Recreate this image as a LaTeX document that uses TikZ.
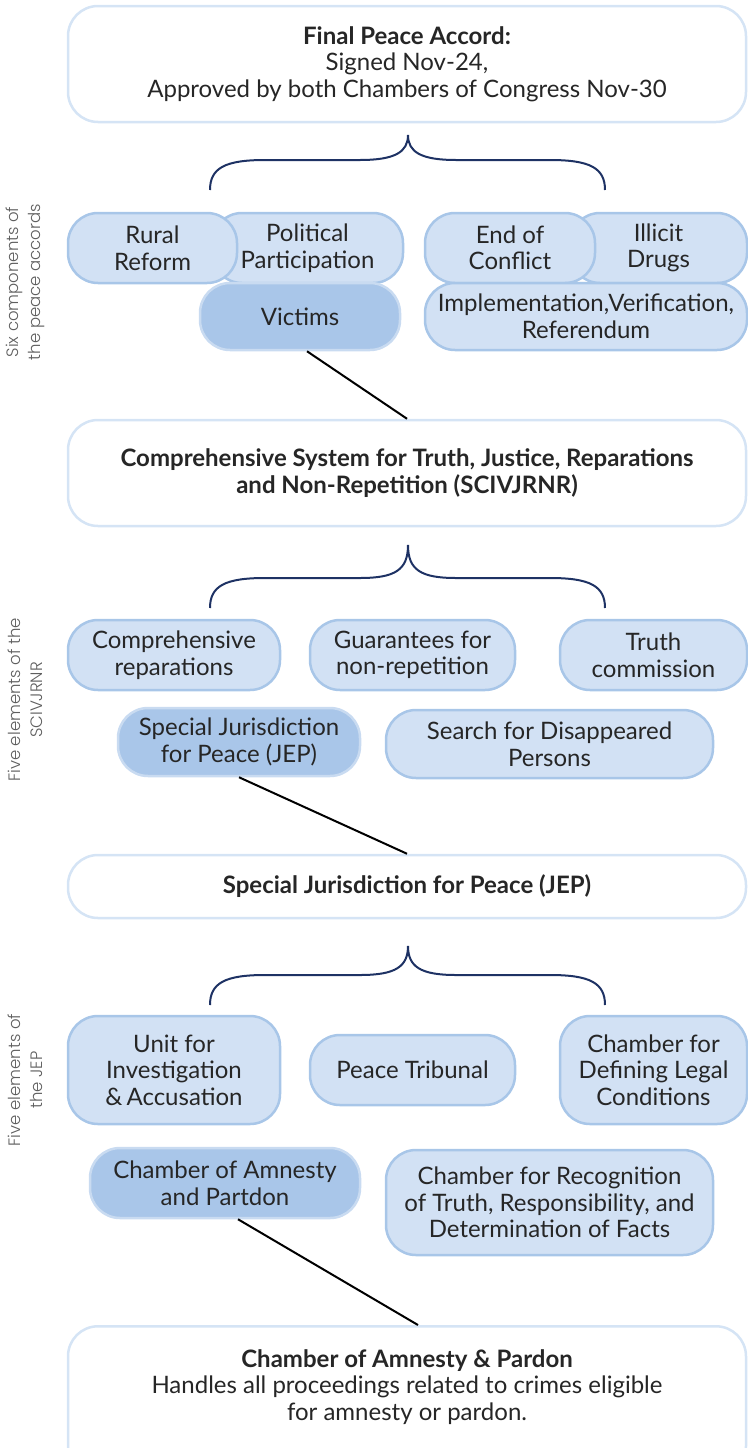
\documentclass[tikz,border=0pt]{standalone}
\usepackage{fontspec}
\setmainfont{Lato}
\newfontfamily\sidefont{Poppins Light}
\definecolor{pillfill}{HTML}{D2E1F4}
\definecolor{pillborder}{HTML}{A8C6E8}
\definecolor{darkfill}{HTML}{A9C6E9}
\definecolor{darkborder}{HTML}{C9DBF1}
\definecolor{boxborder}{HTML}{D5E4F5}
\definecolor{bracecol}{HTML}{1E3264}
\definecolor{sidegray}{HTML}{5E5E5E}
\tikzset{
  txt/.style={font=\fontsize{24}{26.5}\selectfont, text=black!85, align=center, inner sep=0pt},
  pill/.style={txt, draw=pillborder, fill=pillfill, line width=2.5pt, rounded corners=30pt},
  darkpill/.style={txt, draw=darkborder, fill=darkfill, line width=2.5pt, rounded corners=30pt},
  bigbox/.style={txt, draw=boxborder, fill=white, line width=2.5pt, rounded corners=30pt},
  brace/.style={draw=bracecol, line width=2pt},
  conn/.style={draw=black, line width=2pt},
  side/.style={font=\sidefont\fontsize{16.5}{22}\selectfont, text=sidegray, align=center, rotate=90, inner sep=0pt}
}
\begin{document}
\begin{tikzpicture}[x=1pt,y=-1pt]
\useasboundingbox (0,0) rectangle (747,1448);
% ---------- top box
\node[bigbox, minimum width=678, minimum height=116] (accord) at (407,64)
  {\textbf{Final Peace Accord:}\\Signed Nov-24,\\Approved by both Chambers of Congress Nov-30};
\draw[brace] (210,190) .. controls (210,168) and (225,160) .. (265,160) -- (360,160)
  .. controls (395,160) and (408,152) .. (408,135)
  .. controls (408,152) and (421,160) .. (456,160) -- (550,160)
  .. controls (590,160) and (605,168) .. (605,190);
\node[side] (lab1) at (25,282) {Six components of\\the peace accords};
% ---------- six components
\node[pill, minimum width=191, minimum height=70] (polit) at (307.5,248) {Political\\Participation};
\node[pill, minimum width=169, minimum height=70] (rural) at (152.5,248) {Rural\\Reform};
\node[pill, minimum width=177, minimum height=70] (drugs) at (658.5,248) {Illicit\\Drugs};
\node[pill, minimum width=170, minimum height=70] (endc) at (510,248) {End of\\Conflict};
\node[darkpill, minimum width=200, minimum height=67] (victims) at (300,316.5) {Victims};
\node[pill, minimum width=322, minimum height=67] (impl) at (586,316.5) {Implementation,\kern-1pt Verification,\\Referendum};
% ---------- SCIVJRNR
\node[bigbox, minimum width=678, minimum height=106] (sci) at (407,473)
  {\textbf{Comprehensive System for Truth, Justice, Reparations}\\\textbf{and Non-Repetition (SCIVJRNR)}};
\draw[conn] ([xshift=7]victims.south) -- (sci.north);
\draw[brace] (210,608) .. controls (210,586) and (225,578) .. (265,578) -- (360,578)
  .. controls (395,578) and (408,570) .. (408,545)
  .. controls (408,570) and (421,578) .. (456,578) -- (550,578)
  .. controls (590,578) and (605,586) .. (605,608);
\node[side] (lab2) at (25,700) {Five elements of the\\SCIVJRNR};
\node[pill, minimum width=212, minimum height=70] (repar) at (174,655) {Comprehensive\\reparations};
\node[pill, minimum width=205, minimum height=70] (guar) at (412.5,655) {Guarantees for\\non-repetition};
\node[pill, minimum width=187, minimum height=70] (truth) at (653.5,655) {Truth\\commission};
\node[darkpill, minimum width=242, minimum height=68] (jepp) at (239,742) {Special Jurisdiction\\for Peace (JEP)};
\node[pill, minimum width=327, minimum height=68] (search) at (549.5,744) {Search for Disappeared\\Persons};
% ---------- JEP
\node[bigbox, minimum width=678, minimum height=63] (jep) at (407,886.5)
  {\textbf{Special Jurisdiction for Peace (JEP)}};
\draw[conn] (jepp.south) -- (jep.north);
\draw[brace] (210,1005) .. controls (210,983) and (225,975) .. (265,975) -- (360,975)
  .. controls (395,975) and (408,967) .. (408,946)
  .. controls (408,967) and (421,975) .. (456,975) -- (550,975)
  .. controls (590,975) and (605,983) .. (605,1005);
\node[side] (lab3) at (25,1080) {Five elements of\\the JEP};
\node[pill, minimum width=212, minimum height=108] (unit) at (174,1070) {Unit for\\Investigation\\\&\,Accusation};
\node[pill, minimum width=205, minimum height=70] (trib) at (412.5,1070) {Peace Tribunal};
\node[pill, minimum width=187, minimum height=108] (legal) at (653.5,1070) {Chamber for\\Defining Legal\\Conditions};
\node[darkpill, minimum width=270, minimum height=70] (amn) at (225,1183) {Chamber of Amnesty\\and Partdon};
\node[pill, minimum width=327, minimum height=105] (recog) at (549.5,1202.5) {Chamber for Recognition\\of Truth, Responsibility, and\\Determination of Facts};
% ---------- bottom box
\node[bigbox, minimum width=678, minimum height=150, anchor=north] (cap) at (407,1325) {};
\node[txt] (captxt) at (407,1387) {\textbf{Chamber of Amnesty \& Pardon}\\Handles all proceedings related to crimes eligible\\for amnesty or pardon.};
\draw[conn] ([xshift=13]amn.south) -- ([xshift=11]cap.north);
\end{tikzpicture}
\end{document}
